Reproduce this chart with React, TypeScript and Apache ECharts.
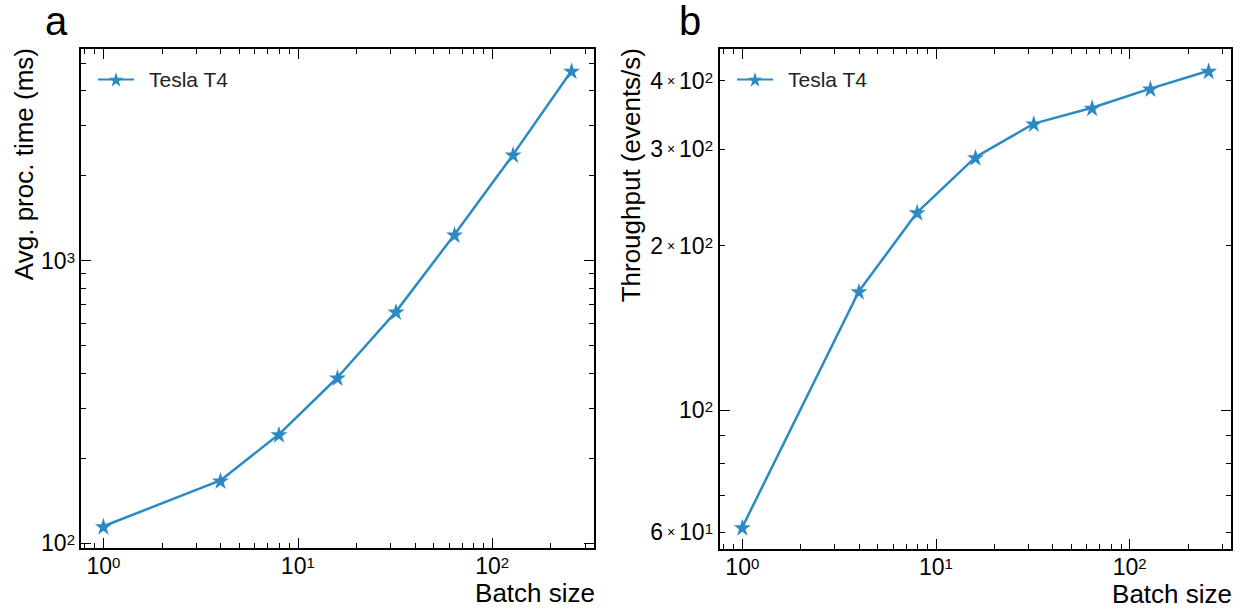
import React, { useEffect, useRef } from 'react';
import * as echarts from 'echarts';

const batchSizes = [1, 4, 8, 16, 32, 64, 128, 256];
const procTimeMs = [115, 167, 243, 386, 660, 1236, 2370, 4690];
const throughputEvPerS = [61.2, 165, 230, 290, 334, 357, 387, 417];
const seriesName = 'Tesla T4';
const throughputLabelValues = [60, 100, 200, 300, 400];
const panelLabels = ['a', 'b'];
const xName = 'Batch size';
const yNameLeft = 'Avg. proc. time (ms)';
const yNameRight = 'Throughput (events/s)';

const BLUE = '#2b8ac4';
const FONT = '"Liberation Sans", Arial, Helvetica, sans-serif';
const STAR =
  'path://M50,0 L61.8,36.2 L100,36.2 L69.1,58.8 L80.9,95.1 L50,72.6 L19.1,95.1 L30.9,58.8 L0,36.2 L38.2,36.2 Z';

function logRange(vals: number[]): [number, number] {
  const lo = Math.log10(Math.min(...vals));
  const hi = Math.log10(Math.max(...vals));
  const m = 0.05 * (hi - lo);
  return [Math.pow(10, lo - m), Math.pow(10, hi + m)];
}

function sciLabel(v: number, onlyPowers: boolean): string {
  const e = Math.floor(Math.log10(v) + 1e-9);
  const m = v / Math.pow(10, e);
  const mr = Math.round(m);
  if (Math.abs(m - mr) > 1e-6) return '';
  if (mr === 1) return `10{sup|${e}}`;
  if (onlyPowers) return '';
  return `${mr}{x| × }10{sup|${e}}`;
}

const richLabel = {
  sup: { fontSize: 15, verticalAlign: 'top', lineHeight: 15, fontFamily: FONT, color: '#000' },
  x: { fontSize: 14, fontFamily: FONT, color: '#000', lineHeight: 22 },
};

function baseAxis(range: [number, number], gridIndex: number, position: string) {
  return {
    type: 'log',
    logBase: 10,
    gridIndex,
    position,
    min: range[0],
    max: range[1],
    axisLine: { show: true, onZero: false, lineStyle: { color: '#000', width: 2 } },
    axisTick: { show: true, inside: true, length: 11, lineStyle: { color: '#000', width: 1 } },
    minorTick: { show: true, splitNumber: 9, length: 6, lineStyle: { color: '#000', width: 1 } },
    splitLine: { show: false },
    minorSplitLine: { show: false },
    axisLabel: { show: false },
  };
}

export default function App() {
  const ref = useRef<HTMLDivElement>(null);
  useEffect(() => {
    if (!ref.current) return;
    const chart = echarts.init(ref.current, undefined, { renderer: 'svg' });
    const xr = logRange(batchSizes);
    const yrL = logRange(procTimeMs);
    const yrR = logRange(throughputEvPerS);

    const xLabel = {
      show: true,
      margin: 6,
      fontSize: 23,
      lineHeight: 22,
      color: '#000',
      fontFamily: FONT,
      formatter: (v: number) => sciLabel(v, true),
      rich: richLabel,
    };
    const xNameStyle = {
      name: xName,
      nameLocation: 'end',
      nameGap: 0,
      nameTextStyle: {
        fontSize: 26,
        fontFamily: FONT,
        color: '#000',
        align: 'right',
        verticalAlign: 'top',
        padding: [31, 0, 0, 0],
      },
    };
    const yName = (name: string, pad: number) => ({
      name,
      nameLocation: 'end',
      nameRotate: 90,
      nameGap: 0,
      nameTextStyle: {
        fontSize: 26,
        fontFamily: FONT,
        color: '#000',
        align: 'right',
        verticalAlign: 'bottom',
        padding: [0, 0, pad, 0],
      },
    });

    const option: any = {
      animation: false,
      backgroundColor: '#fff',
      title: panelLabels.map((t, i) => ({
        text: t,
        left: i === 0 ? 45 : 679,
        top: 1,
        padding: 0,
        textStyle: { fontSize: 40, fontWeight: 'normal', color: '#000', fontFamily: FONT },
      })),
      legend: [97, 736].map((left) => ({
        data: [seriesName],
        left,
        top: 69,
        padding: 0,
        itemWidth: 36,
        itemHeight: 18,
        selectedMode: false,
        textStyle: { fontSize: 21, color: '#222', fontFamily: FONT, padding: [0, 0, 0, 10] },
      })),
      grid: [
        { left: 80, top: 48, width: 515, height: 501 },
        { left: 719, top: 48, width: 513, height: 502 },
      ],
      xAxis: [
        { ...baseAxis(xr, 0, 'bottom'), axisLabel: xLabel, ...xNameStyle },
        { ...baseAxis(xr, 0, 'top') },
        { ...baseAxis(xr, 1, 'bottom'), axisLabel: xLabel, ...xNameStyle },
        { ...baseAxis(xr, 1, 'top') },
      ],
      yAxis: [
        {
          ...baseAxis(yrL, 0, 'left'),
          axisLabel: { ...xLabel, margin: 5 },
          ...yName(yNameLeft, 43),
        },
        { ...baseAxis(yrL, 0, 'right') },
        {
          ...baseAxis(yrR, 1, 'left'),
          axisLabel: {
            ...xLabel,
            margin: 6,
            customValues: throughputLabelValues,
            formatter: (v: number) => sciLabel(v, false),
          },
          ...yName(yNameRight, 75),
        },
        { ...baseAxis(yrR, 1, 'right') },
      ],
      series: [
        {
          type: 'line',
          name: seriesName,
          xAxisIndex: 0,
          yAxisIndex: 0,
          data: batchSizes.map((b, i) => [b, procTimeMs[i]]),
        },
        {
          type: 'line',
          name: seriesName,
          xAxisIndex: 2,
          yAxisIndex: 2,
          data: batchSizes.map((b, i) => [b, throughputEvPerS[i]]),
        },
      ].map((s) => ({
        ...s,
        symbol: STAR,
        symbolSize: 17,
        showAllSymbol: true,
        lineStyle: { color: BLUE, width: 2.5 },
        itemStyle: { color: BLUE },
        emphasis: { disabled: true },
      })),
    };
    chart.setOption(option);
    return () => chart.dispose();
  }, []);
  return (
    <div
      ref={ref}
      style={{ position: 'absolute', left: 0, top: 0, width: 1242, height: 609, background: '#fff' }}
    />
  );
}
